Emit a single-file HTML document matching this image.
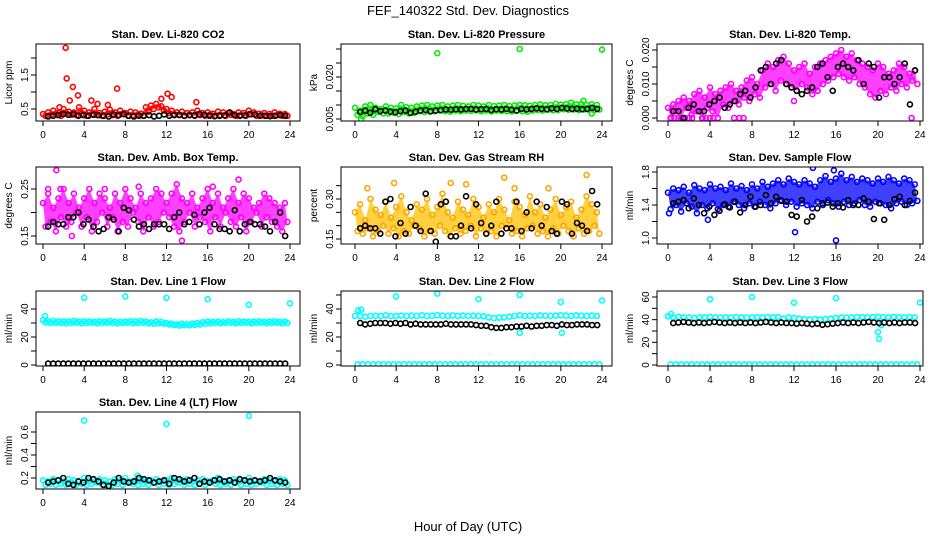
<!DOCTYPE html>
<html><head><meta charset="utf-8">
<style>
html,body{margin:0;padding:0;background:#fff;}
svg{display:block;font-family:"Liberation Sans",Arial,sans-serif;}
</style></head>
<body>
<svg id="chart" width="936" height="540" viewBox="0 0 936 540" xmlns="http://www.w3.org/2000/svg">
<rect width="936" height="540" fill="#fff"/>
<text x="468" y="15" text-anchor="middle" font-size="13">FEF_140322  Std. Dev. Diagnostics</text>
<text x="468" y="531" text-anchor="middle" font-size="13">Hour of Day (UTC)</text>
</svg>
<script>
// ---- data (hour-of-day series) ----
const xTicks = [0,4,8,12,16,20,24];
const titles = ["Stan. Dev. Li-820 CO2","Stan. Dev. Li-820 Pressure","Stan. Dev. Li-820 Temp.","Stan. Dev. Amb. Box Temp.","Stan. Dev. Gas Stream RH","Stan. Dev. Sample Flow","Stan. Dev. Line 1 Flow","Stan. Dev. Line 2 Flow","Stan. Dev. Line 3 Flow","Stan. Dev. Line 4 (LT) Flow"];
const yTitles = ["Licor ppm","kPa","degrees C","degrees C","percent","ml/min","ml/min","ml/min","ml/min","ml/min"];
const colors = ["#ff0000","#00ee00","#ff00ff","#ff00ff","#ffa500","#0000ff","#00ffff","#00ffff","#00ffff","#00ffff"];
const bandFill = ["#ff0000","#00ee00","#ff00ff","#ff00ff","#ffc000","#0000ff","#00ffff",null,null,"#00ffff"];

const co2A=[0.35,0.4,0.45,0.38,0.5,0.42,0.4,0.55,0.45,0.4,0.5,0.38,0.42,0.48,0.4,0.45,0.38,0.42,0.4,0.36,0.55,0.6,0.65,0.58,0.5,0.45,0.4,0.42,0.38,0.4,0.45,0.38,0.4,0.36,0.42,0.4,0.38,0.35,0.4,0.38,0.45,0.4,0.36,0.38,0.35,0.4,0.36,0.35];
const co2B=[0.3,0.32,0.35,0.3,0.38,0.33,0.32,0.36,0.3,0.35,0.32,0.3,0.34,0.32,0.3,0.35,0.3,0.32,0.34,0.3,0.42,0.5,0.55,0.45,0.38,0.35,0.32,0.3,0.33,0.3,0.32,0.3,0.34,0.3,0.32,0.3,0.33,0.3,0.32,0.3,0.34,0.3,0.32,0.3,0.3,0.32,0.3,0.3];
const co2Black=[0.28,0.3,0.32,0.35,0.33,0.35,0.3,0.32,0.3,0.33,0.32,0.3,0.28,0.34,0.32,0.35,0.3,0.28,0.3,0.3,0.32,0.28,0.3,0.34,0.3,0.32,0.33,0.3,0.32,0.31,0.35,0.33,0.3,0.29,0.3,0.31,0.4,0.32,0.3,0.31,0.35,0.34,0.3,0.3,0.29,0.3,0.32,0.3];
const co2OutT=[2.2,2.3,2.9,3.4,2.6,4.7,7.2,12.1,12.5,11.5,14.9,1.6,5.3,6.3];
const co2OutV=[2.3,1.4,1.15,0.9,0.75,0.75,1.1,0.95,0.85,0.8,0.7,0.55,0.65,0.62];

const presA=[0.009,0.008,0.0095,0.01,0.009,0.0085,0.0095,0.009,0.0088,0.01,0.0092,0.009,0.0095,0.0098,0.01,0.0095,0.0098,0.01,0.0095,0.0098,0.01,0.0097,0.0095,0.01,0.0098,0.0095,0.01,0.0096,0.0098,0.01,0.0096,0.0098,0.01,0.0099,0.0097,0.01,0.0102,0.0099,0.01,0.0104,0.0101,0.0103,0.0108,0.0102,0.0103,0.01,0.0102,0.01];
const presB=[0.0065,0.006,0.007,0.0065,0.0075,0.007,0.007,0.0072,0.0068,0.0075,0.007,0.0072,0.0078,0.0075,0.0076,0.0078,0.008,0.0078,0.0076,0.008,0.0078,0.008,0.0079,0.0081,0.0078,0.008,0.0077,0.008,0.0079,0.0078,0.0077,0.008,0.0078,0.0076,0.008,0.0082,0.008,0.0083,0.0081,0.0082,0.0085,0.0083,0.0084,0.0082,0.0084,0.0083,0.0082,0.0084];
const presBlack=[0.0075,0.008,0.0072,0.0085,0.0078,0.008,0.0076,0.0074,0.0078,0.008,0.0072,0.0076,0.008,0.0082,0.0078,0.008,0.0082,0.0084,0.0083,0.0085,0.0084,0.0086,0.0086,0.0084,0.0085,0.0086,0.0082,0.0085,0.0084,0.0086,0.0083,0.008,0.0086,0.0084,0.0086,0.0088,0.0086,0.0085,0.0088,0.0086,0.009,0.0088,0.0086,0.0087,0.0085,0.0086,0.009,0.0086];
const presOutT=[8,16,24,0.6,22.2,23];
const presOutV=[0.0285,0.03,0.0298,0.005,0.0115,0.007];

const tempA=[0.003,0.004,0.005,0.006,0.005,0.007,0.008,0.006,0.009,0.007,0.008,0.009,0.01,0.008,0.009,0.011,0.012,0.01,0.014,0.016,0.015,0.017,0.018,0.016,0.014,0.015,0.016,0.013,0.015,0.016,0.017,0.018,0.019,0.02,0.018,0.019,0.017,0.016,0.015,0.014,0.016,0.015,0.013,0.014,0.016,0.015,0.013,0.014];
const tempB=[0,0.002,0,0.003,0.001,0.002,0,0.003,0.002,0,0.004,0.003,0.005,0.004,0.006,0.005,0.007,0.006,0.009,0.01,0.008,0.011,0.01,0.009,0.008,0.01,0.009,0.007,0.008,0.01,0.011,0.012,0.013,0.012,0.011,0.012,0.01,0.009,0.007,0.006,0.008,0.007,0.009,0.008,0.01,0.009,0.011,0.01];
const tempBlack=[0.002,0.002,0,0.003,0.004,0.002,0.002,0.004,0.005,0.006,0.003,0.004,0.005,0.007,0.008,0.006,0.009,0.014,0.015,0.01,0.016,0.017,0.01,0.009,0.008,0.007,0.008,0.009,0.015,0.016,0.012,0.008,0.015,0.016,0.015,0.014,0.017,0.01,0.016,0.015,0.006,0.012,0.012,0.01,0.012,0.016,0.004,0.014];
const tempOutT=[0.3,0.6,1,1.3,1.6,2,2.3,3.3,3.6,4,4.3,6.3,6.8,7.2,23.2,12];
const tempOutV=[0,0,0,0,0,0,0,0,0,0,0,0,0,0,0,0.005];

const ambA=[0.22,0.24,0.21,0.23,0.25,0.22,0.24,0.21,0.23,0.25,0.22,0.24,0.23,0.21,0.24,0.22,0.25,0.23,0.21,0.24,0.22,0.23,0.25,0.24,0.22,0.24,0.26,0.23,0.22,0.24,0.21,0.23,0.25,0.22,0.24,0.21,0.23,0.25,0.22,0.24,0.23,0.21,0.22,0.24,0.23,0.22,0.21,0.22];
const ambB=[0.17,0.18,0.16,0.19,0.17,0.18,0.2,0.17,0.19,0.16,0.18,0.2,0.17,0.19,0.16,0.18,0.17,0.2,0.18,0.16,0.19,0.17,0.18,0.2,0.19,0.17,0.16,0.18,0.2,0.17,0.19,0.18,0.16,0.19,0.17,0.2,0.18,0.17,0.19,0.16,0.18,0.2,0.17,0.19,0.18,0.17,0.16,0.18];
const ambBlack=[0.17,0.18,0.175,0.175,0.19,0.19,0.2,0.175,0.185,0.17,0.16,0.165,0.19,0.185,0.16,0.21,0.205,0.185,0.17,0.175,0.165,0.175,0.175,0.175,0.165,0.19,0.2,0.175,0.18,0.195,0.175,0.2,0.21,0.175,0.165,0.165,0.16,0.205,0.16,0.175,0.18,0.175,0.175,0.17,0.16,0.18,0.2,0.15];
const ambOutT=[1.3,1.7,0.5,13.5,19,16.5,9.3,6,2.8];
const ambOutV=[0.29,0.25,0.25,0.14,0.27,0.255,0.255,0.25,0.15];

const rhA=[0.25,0.28,0.22,0.3,0.26,0.24,0.29,0.23,0.27,0.31,0.25,0.22,0.28,0.26,0.3,0.24,0.27,0.32,0.25,0.23,0.29,0.26,0.24,0.3,0.27,0.23,0.28,0.25,0.3,0.26,0.22,0.29,0.27,0.24,0.31,0.25,0.28,0.23,0.26,0.3,0.24,0.27,0.29,0.23,0.26,0.31,0.28,0.25];
const rhB=[0.18,0.17,0.19,0.16,0.18,0.2,0.17,0.19,0.16,0.18,0.17,0.2,0.19,0.16,0.18,0.17,0.2,0.18,0.16,0.19,0.17,0.18,0.2,0.16,0.19,0.17,0.18,0.16,0.2,0.19,0.17,0.18,0.16,0.19,0.2,0.17,0.18,0.16,0.19,0.17,0.2,0.18,0.16,0.19,0.17,0.18,0.2,0.17];
const rhBlack=[0.19,0.2,0.19,0.19,0.17,0.29,0.3,0.16,0.21,0.17,0.27,0.2,0.18,0.32,0.18,0.14,0.28,0.29,0.16,0.16,0.2,0.31,0.19,0.28,0.21,0.17,0.2,0.29,0.17,0.19,0.19,0.29,0.18,0.25,0.19,0.29,0.2,0.27,0.18,0.17,0.29,0.28,0.17,0.21,0.2,0.18,0.33,0.28];
const rhOutT=[3.8,9.3,10.8,14.5,22.5,1.2,15.5,18.8];
const rhOutV=[0.36,0.36,0.355,0.38,0.39,0.34,0.34,0.34];

const sfA=[1.55,1.6,1.58,1.62,1.55,1.64,1.6,1.58,1.65,1.6,1.62,1.58,1.66,1.6,1.63,1.58,1.65,1.6,1.68,1.62,1.66,1.7,1.65,1.72,1.68,1.65,1.7,1.66,1.62,1.7,1.75,1.68,1.72,1.78,1.7,1.74,1.68,1.72,1.7,1.66,1.72,1.68,1.74,1.7,1.66,1.72,1.7,1.65];
const sfB=[1.35,1.4,1.32,1.42,1.38,1.3,1.4,1.36,1.42,1.35,1.4,1.38,1.44,1.4,1.36,1.42,1.38,1.44,1.4,1.36,1.42,1.46,1.4,1.44,1.38,1.42,1.4,1.36,1.44,1.4,1.46,1.42,1.38,1.44,1.4,1.42,1.46,1.4,1.38,1.44,1.42,1.4,1.36,1.42,1.44,1.4,1.42,1.45];
const sfBlack=[1.42,1.44,1.46,1.36,1.48,1.4,1.3,1.38,1.28,1.33,1.41,1.37,1.44,1.31,1.4,1.5,1.38,1.4,1.52,1.42,1.5,1.45,1.44,1.28,1.26,1.46,1.2,1.26,1.36,1.42,1.43,1.38,1.42,1.37,1.46,1.4,1.4,1.48,1.44,1.23,1.42,1.22,1.4,1.47,1.5,1.4,1.45,1.55];
const sfOutT=[12.1,16,13.8,15.8,3.8,0.1];
const sfOutV=[1.07,0.97,1.85,1.82,1.22,1.3];

const l1A=[32,31,31.5,31,31.2,31,31.5,31,31.2,31,30.8,31.2,31,31.5,31,30.8,31,31.2,31,31.4,31,30.5,31,30.8,30,29.5,29,29.5,29.2,29.5,30,30.5,31,30.8,31,30.6,31,30.8,31.2,31,30.8,31,31.2,30.8,31,31.2,30.8,31];
const l1B=[30.5,30,30.2,30,29.8,30,30.2,29.8,30,30.2,29.8,30,30.2,30,29.8,30,30.2,29.8,30,30.2,29.8,29.5,29.8,29.5,29,28.5,28.2,28.5,28.3,28.6,29,29.5,29.8,30,29.8,30,30.2,29.8,30,30.2,29.8,30,30.2,29.8,30,30.2,29.8,30];
const l1Black=[1,1,1,1,1,1,1,1,1,1,1,1,1,1,1,1,1,1,1,1,1,1,1,1,1,1,1,1,1,1,1,1,1,1,1,1,1,1,1,1,1,1,1,1,1,1,1,1];
const l1OutT=[4,8,12,16,20,24,0.2];
const l1OutV=[48,49,48,47,43,44,35];

const l2A=[35,35,34.5,35,35.2,35,35.5,35,35,35.3,35,35.2,35,35.5,35,35.2,35.5,35.2,35,35.4,35,35.3,35,35.2,35,34.8,34,33.5,33.8,34,34.5,35,35.5,35,35.2,35,35.4,35.2,35,35.3,35.5,35.2,35,35.4,35.2,35,35.3,35];
const l2B=[0.5,0.5,0.5,0.5,0.5,0.5,0.5,0.5,0.5,0.5,0.5,0.5,0.5,0.5,0.5,0.5,0.5,0.5,0.5,0.5,0.5,0.5,0.5,0.5,0.5,0.5,0.5,0.5,0.5,0.5,0.5,0.5,0.5,0.5,0.5,0.5,0.5,0.5,0.5,0.5,0.5,0.5,0.5,0.5,0.5,0.5,0.5,0.5];
const l2Black=[30,29,29.5,30,30,30,29.5,30,29.5,30,29,29.5,29,29,29,29,29,29.5,29,29,29,29,29,28.5,28,28,27,26.5,26.5,27,27,27.5,27.5,28,27.5,28,28,28.5,28.5,28,29,28.5,28.5,29,29,29,28.5,28.5];
const l2OutT=[4,8,12,16,20,24,0.3,0.6,16,20.1];
const l2OutV=[49,51,47,50,45,46,39,39.5,23,23];

const l3A=[43,42,42.5,42,42,41.5,42,42,42.5,42,41.8,42,42,42.3,42,41.8,42,42.2,42,42.4,42,42.3,41,42,41.5,41,40.5,40,40.5,40,40.5,41,41.5,42,41.8,42,42.4,42.2,42,42.3,42.5,42.2,42,42.4,42.2,42,42.3,42];
const l3B=[0.5,0.5,0.5,0.5,0.5,0.5,0.5,0.5,0.5,0.5,0.5,0.5,0.5,0.5,0.5,0.5,0.5,0.5,0.5,0.5,0.5,0.5,0.5,0.5,0.5,0.5,0.5,0.5,0.5,0.5,0.5,0.5,0.5,0.5,0.5,0.5,0.5,0.5,0.5,0.5,0.5,0.5,0.5,0.5,0.5,0.5,0.5,0.5];
const l3Black=[37,37.5,38,37.5,37,37.5,37,37.5,38,37.5,37,37.5,37,37.5,37,37.5,37,37.5,38,37.5,37,37.5,37,37,36.5,37,36.5,36,36.5,35.5,36,36.5,37,37.5,37,37.5,37,37.5,38,37.5,37,37.5,37,37.5,37,37.5,37.5,37];
const l3OutT=[4,8,12,16,20,24,0.3,20.1,20.3];
const l3OutV=[58,60,55,59,29,55,45,23,35];

const l4A=[0.18,0.17,0.19,0.18,0.17,0.19,0.18,0.17,0.2,0.18,0.17,0.19,0.18,0.17,0.19,0.18,0.2,0.17,0.18,0.19,0.17,0.18,0.19,0.17,0.18,0.2,0.17,0.18,0.19,0.17,0.18,0.19,0.17,0.18,0.2,0.17,0.18,0.19,0.17,0.18,0.2,0.18,0.17,0.19,0.18,0.17,0.19,0.18];
const l4B=[0.14,0.15,0.14,0.15,0.14,0.16,0.14,0.15,0.14,0.15,0.16,0.14,0.15,0.14,0.15,0.14,0.16,0.15,0.14,0.15,0.14,0.16,0.14,0.15,0.14,0.15,0.16,0.14,0.15,0.14,0.15,0.14,0.16,0.15,0.14,0.15,0.14,0.16,0.14,0.15,0.14,0.15,0.16,0.14,0.15,0.14,0.15,0.14];
const l4Black=[0.16,0.17,0.18,0.2,0.15,0.14,0.17,0.16,0.2,0.19,0.17,0.14,0.13,0.16,0.2,0.17,0.16,0.17,0.2,0.19,0.18,0.16,0.17,0.18,0.15,0.2,0.19,0.17,0.18,0.2,0.15,0.17,0.16,0.18,0.19,0.17,0.18,0.16,0.19,0.18,0.17,0.18,0.17,0.18,0.2,0.18,0.17,0.16];
const l4OutT=[4,12,20,9.2];
const l4OutV=[0.7,0.67,0.74,0.22];

const yTicks=[[0.5,1,1.5,2],[0.005,0.01,0.015,0.02,0.025,0.03],[0,0.005,0.01,0.015,0.02],[0.15,0.2,0.25],[0.15,0.2,0.25,0.3,0.35],[1.0,1.2,1.4,1.6,1.8],[0,10,20,30,40],[0,10,20,30,40,50],[0,10,20,30,40,50,60],[0.2,0.3,0.4,0.5,0.6]];
const yLabels=[["0.5","","1.5",""],["0.005","","","0.020","",""],["0.000","","0.010","","0.020"],["0.15","","0.25"],["0.15","","","0.30",""],["1.0","","1.4","","1.8"],["0","","20","","40"],["0","","20","","40",""],["0","","20","","40","","60"],["0.2","","0.4","","0.6"]];

const seriesA=[co2A,presA,tempA,ambA,rhA,sfA,l1A,l2A,l3A,l4A];
const seriesB=[co2B,presB,tempB,ambB,rhB,sfB,l1B,l2B,l3B,l4B];
const seriesBlack=[co2Black,presBlack,tempBlack,ambBlack,rhBlack,sfBlack,l1Black,l2Black,l3Black,l4Black];
const outT=[co2OutT,presOutT,tempOutT,ambOutT,rhOutT,sfOutT,l1OutT,l2OutT,l3OutT,l4OutT];
const outV=[co2OutV,presOutV,tempOutV,ambOutV,rhOutV,sfOutV,l1OutV,l2OutV,l3OutV,l4OutV];

// ---- layout ----
const cols=[{bx:36,bw:264,x0:43,x24:290},{bx:341,bw:271,x0:355,x24:602},{bx:657,bw:266,x0:668,x24:920}];
const rows=[{top:44,bot:121},{top:167,bot:244},{top:291,bot:366},{top:412,bot:489}];
const yAnchor=[[0.5,109,1.5,75],[0.005,119,0.02,77],[0,118,0.02,50],[0.15,236,0.25,189],[0.15,239,0.3,199],[1.0,238,1.8,172],[0,365,40,309],[0,365,40,309],[0,365,60,297],[0.2,478,0.6,432]];

const NS="http://www.w3.org/2000/svg";
const svg=document.getElementById('chart');
function mk(tag,attrs,parent){const e=document.createElementNS(NS,tag);for(const k in attrs)e.setAttribute(k,attrs[k]);(parent||svg).appendChild(e);return e;}

for(let p=0;p<10;p++){
  const c=cols[p%3], r=rows[Math.floor(p/3)];
  const g=mk('g',{});
  
  
  const xs=t=>c.x0+(c.x24-c.x0)*t/24;
  const a=yAnchor[p];
  const ys=v=>a[1]+(v-a[0])*(a[3]-a[1])/(a[2]-a[0]);
  const tt=mk('text',{x:c.bx+c.bw/2,y:r.top-6,'text-anchor':'middle','font-size':11,'font-weight':'bold'},g);
  tt.textContent=titles[p];
  
  
  const yt=mk('text',{x:0,y:0,'text-anchor':'middle','font-size':10,transform:`translate(${c.bx-24},${(r.top+r.bot)/2}) rotate(-90)`},g);
  yt.textContent=yTitles[p];
  
  
  const xa=mk('g',{},g);
  
  
  mk('line',{x1:xs(0),x2:xs(24),y1:r.bot,y2:r.bot,stroke:'#000'},xa);
  xTicks.forEach(t=>{
    mk('line',{x1:xs(t),x2:xs(t),y1:r.bot,y2:r.bot+5,stroke:'#000'},xa);
    const l=mk('text',{x:xs(t),y:r.bot+17,'text-anchor':'middle','font-size':10},xa);
    l.textContent=t;
  });
  const ya=mk('g',{},g);
  
  
  const yt0=yTicks[p];
  mk('line',{x1:c.bx,x2:c.bx,y1:ys(yt0[0]),y2:ys(yt0[yt0.length-1]),stroke:'#000'},ya);
  yt0.forEach((v,i)=>{
    mk('line',{x1:c.bx-5,x2:c.bx,y1:ys(v),y2:ys(v),stroke:'#000'},ya);
    if(yLabels[p][i]){
      const l=mk('text',{x:0,y:0,'text-anchor':'middle','font-size':10,transform:`translate(${c.bx-8},${ys(v)}) rotate(-90)`},ya);
      l.textContent=yLabels[p][i];
    }
  });
  const clip='clip'+p;
  const cp=mk('clipPath',{id:clip},g);
  mk('rect',{x:c.bx,y:r.top,width:c.bw,height:r.bot-r.top},cp);
  const pts=mk('g',{'clip-path':`url(#${clip})`,fill:'none','stroke-width':1.6},g);
  const col=colors[p];
  // dense cloud band between series A and B
  if(bandFill[p]){
    let d='';
    seriesA[p].forEach((v,i)=>{d+=(i?'L':'M')+xs(i*0.5)+','+ys(v);});
    for(let i=seriesB[p].length-1;i>=0;i--){d+='L'+xs(i*0.5+0.25)+','+ys(seriesB[p][i]);}
    const band=mk('path',{d:d+'Z',fill:bandFill[p],stroke:'none','fill-opacity':0.75},pts);
    
    
  }
  const cs=mk('g',{stroke:col},pts);
  
  
  seriesA[p].forEach((v,i)=>{mk('circle',{cx:xs(i*0.5),cy:ys(v),r:2.5},cs);});
  seriesB[p].forEach((v,i)=>{mk('circle',{cx:xs(i*0.5+0.25),cy:ys(v),r:2.5},cs);});
  outT[p].forEach((t,i)=>{mk('circle',{cx:xs(t),cy:ys(outV[p][i]),r:2.5},cs);});
  const bs=mk('g',{stroke:'#000'},pts);
  
  
  seriesBlack[p].forEach((v,i)=>{mk('circle',{cx:xs(0.5+i*0.49),cy:ys(v),r:2.5},bs);});
  const box=mk('rect',{x:c.bx,y:r.top,width:c.bw,height:r.bot-r.top,fill:'none',stroke:'#000'},g);
  
  
}
</script>
</body></html>
